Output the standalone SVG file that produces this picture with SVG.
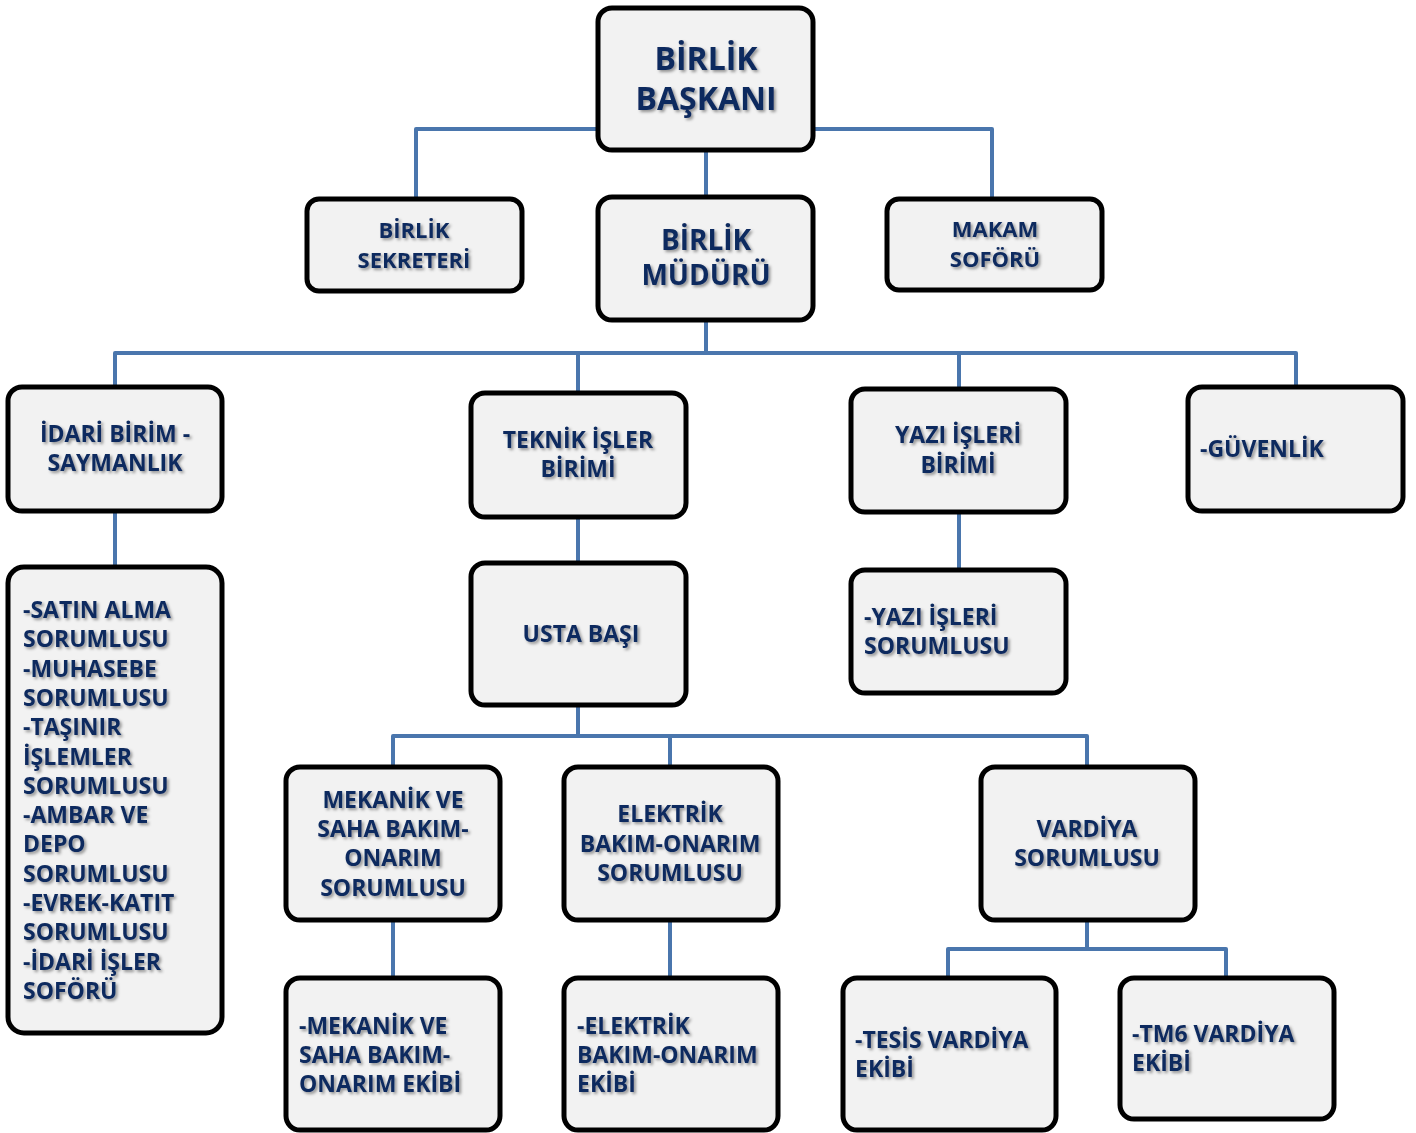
<svg xmlns="http://www.w3.org/2000/svg" width="1416" height="1133" viewBox="0 0 1416 1133">
<defs>
<filter id="ts" x="-10%" y="-30%" width="120%" height="160%">
<feDropShadow dx="2" dy="2" stdDeviation="1.4" flood-color="#000" flood-opacity="0.4"/>
</filter>
</defs>
<style>
.box{fill:#f2f2f2;stroke:#000;stroke-width:5}
.t{font-family:"Open Sans","Noto Sans","DejaVu Sans",sans-serif;font-weight:700;fill:#0f2a5e;filter:url(#ts)}
.c{text-anchor:middle}
.s22{font-size:22px}
.s23{font-size:23px}
.s28{font-size:28px}
.s32{font-size:32px}
.conn path{fill:none;stroke:#4a76ad;stroke-width:4;stroke-linejoin:round}
</style>
<rect width="1416" height="1133" fill="#fff"/>
<g id="connectors" class="conn">
<path d="M598,129 H416 V199"/>
<path d="M813,129 H992 V199"/>
<path d="M706,150 V197"/>
<path d="M706,320 V353"/>
<path d="M115,387 V353 H1296 V387"/>
<path d="M578,353 V393"/>
<path d="M959,353 V389"/>
<path d="M115,511 V567"/>
<path d="M578,517 V563"/>
<path d="M959,512 V570"/>
<path d="M578,705 V736"/>
<path d="M393,767 V736 H1087 V767"/>
<path d="M670,736 V767"/>
<path d="M393,920 V978"/>
<path d="M670,920 V978"/>
<path d="M1087,920 V949"/>
<path d="M948,978 V949 H1226 V978"/>
</g>
<g id="baskan"><rect class="box" x="598" y="8" width="215" height="142" rx="14"/>
<text class="t c s32" x="706"><tspan x="706" y="70">BİRLİK</tspan><tspan x="706" y="110">BAŞKANI</tspan></text></g>
<g id="sekreter"><rect class="box" x="307" y="199" width="215" height="92" rx="12"/>
<text class="t c s22" x="414"><tspan x="414" y="238">BİRLİK</tspan><tspan x="414" y="268">SEKRETERİ</tspan></text></g>
<g id="mudur"><rect class="box" x="598" y="197" width="215" height="123" rx="14"/>
<text class="t c s28" x="706"><tspan x="706" y="250">BİRLİK</tspan><tspan x="706" y="285">MÜDÜRÜ</tspan></text></g>
<g id="makam"><rect class="box" x="887" y="199" width="215" height="91" rx="12"/>
<text class="t c s22" x="995"><tspan x="995" y="237">MAKAM</tspan><tspan x="995" y="267">SOFÖRÜ</tspan></text></g>
<g id="idari"><rect class="box" x="8" y="387" width="214" height="124" rx="14"/>
<text class="t c s23" x="115"><tspan x="115" y="442">İDARİ BİRİM -</tspan><tspan x="115" y="471">SAYMANLIK</tspan></text></g>
<g id="teknik"><rect class="box" x="471" y="393" width="215" height="124" rx="14"/>
<text class="t c s23" x="578"><tspan x="578" y="448">TEKNİK İŞLER</tspan><tspan x="578" y="477">BİRİMİ</tspan></text></g>
<g id="yazi"><rect class="box" x="851" y="389" width="215" height="123" rx="14"/>
<text class="t c s23" x="958"><tspan x="958" y="443">YAZI İŞLERİ</tspan><tspan x="958" y="473">BİRİMİ</tspan></text></g>
<g id="guvenlik"><rect class="box" x="1188" y="387" width="215" height="124" rx="14"/>
<text class="t s23" x="1200" y="457">-GÜVENLİK</text></g>
<g id="idari-liste"><rect class="box" x="8" y="567" width="214" height="466" rx="16"/>
<text class="t s23" x="23">
<tspan x="23" y="618">-SATIN ALMA</tspan>
<tspan x="23" y="647.3">SORUMLUSU</tspan>
<tspan x="23" y="676.6">-MUHASEBE</tspan>
<tspan x="23" y="705.9">SORUMLUSU</tspan>
<tspan x="23" y="735.2">-TAŞINIR</tspan>
<tspan x="23" y="764.5">İŞLEMLER</tspan>
<tspan x="23" y="793.8">SORUMLUSU</tspan>
<tspan x="23" y="823.1">-AMBAR VE</tspan>
<tspan x="23" y="852.4">DEPO</tspan>
<tspan x="23" y="881.7">SORUMLUSU</tspan>
<tspan x="23" y="911">-EVREK-KATIT</tspan>
<tspan x="23" y="940.3">SORUMLUSU</tspan>
<tspan x="23" y="969.6">-İDARİ İŞLER</tspan>
<tspan x="23" y="998.9">SOFÖRÜ</tspan>
</text></g>
<g id="usta"><rect class="box" x="471" y="563" width="215" height="142" rx="14"/>
<text class="t c s23" x="581" y="642">USTA BAŞI</text></g>
<g id="yazi-sorumlu"><rect class="box" x="851" y="570" width="215" height="123" rx="14"/>
<text class="t s23" x="864"><tspan x="864" y="625">-YAZI İŞLERİ</tspan><tspan x="864" y="654">SORUMLUSU</tspan></text></g>
<g id="mekanik"><rect class="box" x="286" y="767" width="214" height="153" rx="14"/>
<text class="t c s23" x="393"><tspan x="393" y="808">MEKANİK VE</tspan><tspan x="393" y="837">SAHA BAKIM-</tspan><tspan x="393" y="866">ONARIM</tspan><tspan x="393" y="896">SORUMLUSU</tspan></text></g>
<g id="elektrik"><rect class="box" x="564" y="767" width="214" height="153" rx="14"/>
<text class="t c s23" x="670"><tspan x="670" y="822">ELEKTRİK</tspan><tspan x="670" y="852">BAKIM-ONARIM</tspan><tspan x="670" y="881">SORUMLUSU</tspan></text></g>
<g id="vardiya"><rect class="box" x="981" y="767" width="214" height="153" rx="14"/>
<text class="t c s23" x="1087"><tspan x="1087" y="837">VARDİYA</tspan><tspan x="1087" y="866">SORUMLUSU</tspan></text></g>
<g id="mekanik-ekip"><rect class="box" x="286" y="978" width="214" height="152" rx="14"/>
<text class="t s23" x="299"><tspan x="299" y="1034">-MEKANİK VE</tspan><tspan x="299" y="1063">SAHA BAKIM-</tspan><tspan x="299" y="1092">ONARIM EKİBİ</tspan></text></g>
<g id="elektrik-ekip"><rect class="box" x="564" y="978" width="214" height="152" rx="14"/>
<text class="t s23" x="577"><tspan x="577" y="1034">-ELEKTRİK</tspan><tspan x="577" y="1063">BAKIM-ONARIM</tspan><tspan x="577" y="1092">EKİBİ</tspan></text></g>
<g id="tesis"><rect class="box" x="843" y="978" width="213" height="152" rx="14"/>
<text class="t s23" x="855"><tspan x="855" y="1048">-TESİS VARDİYA</tspan><tspan x="855" y="1077">EKİBİ</tspan></text></g>
<g id="tm6"><rect class="box" x="1120" y="978" width="214" height="141" rx="14"/>
<text class="t s23" x="1132"><tspan x="1132" y="1042">-TM6 VARDİYA</tspan><tspan x="1132" y="1071">EKİBİ</tspan></text></g>
</svg>
